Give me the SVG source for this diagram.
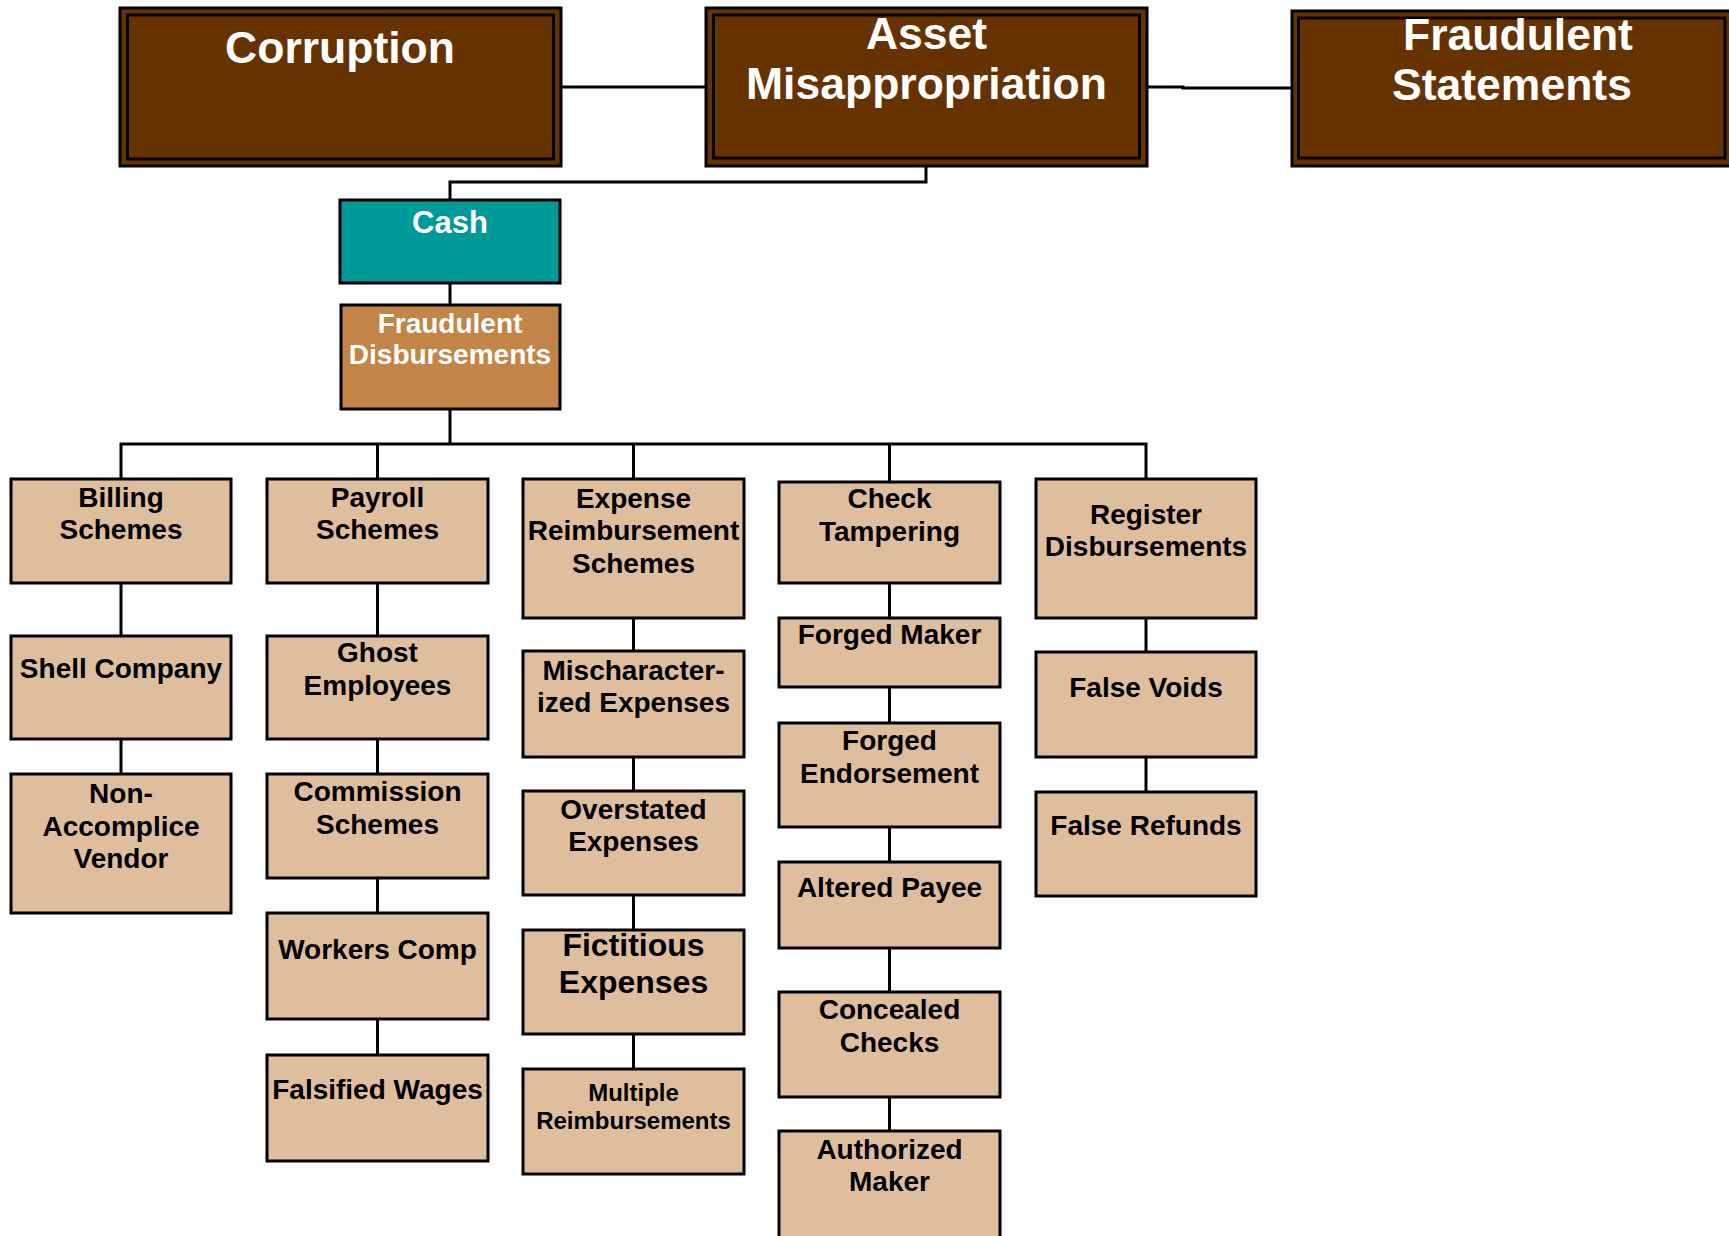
<svg xmlns="http://www.w3.org/2000/svg" width="1729" height="1236" viewBox="0 0 1729 1236">
<style>
.top{fill:#663300;stroke:#000;stroke-width:3}
.topin{fill:none;stroke:#000;stroke-width:3}
.leaf{fill:#DFBE9E;stroke:#000;stroke-width:3}
.tt{font-family:"Liberation Sans",Arial,sans-serif;font-weight:bold;font-size:44.5px;fill:#fff;text-anchor:middle}
.wt{font-family:"Liberation Sans",Arial,sans-serif;font-weight:bold;fill:#fff;text-anchor:middle}
.lt{font-family:"Liberation Sans",Arial,sans-serif;font-weight:bold;font-size:28px;fill:#000;text-anchor:middle}
.big{font-size:32px}
.small{font-size:24px}
.cn{fill:none;stroke:#000;stroke-width:3}
</style>
<rect width="1729" height="1236" fill="#fff"/>
<g id="connectors">
<path class="cn" d="M561 87H707"/>
<path class="cn" d="M1147 87H1183V88H1292"/>
<path class="cn" d="M926 166V182H450V200"/>
<path class="cn" d="M450 283V305"/>
<path class="cn" d="M450 409V444"/>
<path class="cn" d="M121 479V444H1146V479"/>
<path class="cn" d="M377.5 444V479"/>
<path class="cn" d="M633.5 444V479"/>
<path class="cn" d="M889.5 444V482"/>
<path class="cn" d="M121 583V636M121 739V774"/>
<path class="cn" d="M377.5 583V636M377.5 739V774M377.5 878V913M377.5 1019V1055"/>
<path class="cn" d="M633.5 618V651M633.5 757V791M633.5 895V930M633.5 1034V1069"/>
<path class="cn" d="M889.5 583V618M889.5 687V723M889.5 827V862M889.5 948V992M889.5 1097V1131"/>
<path class="cn" d="M1146 618V652M1146 757V792"/>
</g>
<g id="corruption">
<rect class="top" x="120" y="8" width="441" height="158"/>
<rect class="topin" x="127.5" y="15" width="426" height="144"/>
<text class="tt" x="340" y="63">Corruption</text>
</g>
<g id="asset-misappropriation">
<rect class="top" x="706" y="8" width="441" height="158"/>
<rect class="topin" x="713.5" y="15" width="426" height="143"/>
<text class="tt" x="926.5" y="49">Asset</text>
<text class="tt" x="926.5" y="99">Misappropriation</text>
</g>
<g id="fraudulent-statements">
<rect class="top" x="1292" y="11" width="441" height="155"/>
<rect class="topin" x="1298.5" y="18" width="426.5" height="140"/>
<text class="tt" x="1518" y="50">Fraudulent</text>
<text class="tt" x="1512" y="100">Statements</text>
</g>
<g id="cash">
<rect x="340" y="200" width="220" height="83" fill="#009999" stroke="#000" stroke-width="3"/>
<text class="wt" x="450" y="233" font-size="31">Cash</text>
</g>
<g id="fraudulent-disbursements">
<rect x="341" y="305" width="219" height="104" fill="#C28447" stroke="#000" stroke-width="3"/>
<text class="wt" x="450" y="333" font-size="28">Fraudulent</text>
<text class="wt" x="450" y="364" font-size="28">Disbursements</text>
</g>
<g id="billing-schemes">
<rect class="leaf" x="11" y="479" width="220" height="104"/>
<text class="lt" x="121" y="507">Billing</text>
<text class="lt" x="121" y="539">Schemes</text>
</g>
<g id="shell-company">
<rect class="leaf" x="11" y="636" width="220" height="103"/>
<text class="lt" x="121" y="678">Shell Company</text>
</g>
<g id="non-accomplice-vendor">
<rect class="leaf" x="11" y="774" width="220" height="139"/>
<text class="lt" x="121" y="803">Non-</text>
<text class="lt" x="121" y="836">Accomplice</text>
<text class="lt" x="121" y="868">Vendor</text>
</g>
<g id="payroll-schemes">
<rect class="leaf" x="267" y="479" width="221" height="104"/>
<text class="lt" x="377.5" y="507">Payroll</text>
<text class="lt" x="377.5" y="539">Schemes</text>
</g>
<g id="ghost-employees">
<rect class="leaf" x="267" y="636" width="221" height="103"/>
<text class="lt" x="377.5" y="662">Ghost</text>
<text class="lt" x="377.5" y="695">Employees</text>
</g>
<g id="commission-schemes">
<rect class="leaf" x="267" y="774" width="221" height="104"/>
<text class="lt" x="377.5" y="801">Commission</text>
<text class="lt" x="377.5" y="834">Schemes</text>
</g>
<g id="workers-comp">
<rect class="leaf" x="267" y="913" width="221" height="106"/>
<text class="lt" x="377.5" y="959">Workers Comp</text>
</g>
<g id="falsified-wages">
<rect class="leaf" x="267" y="1055" width="221" height="106"/>
<text class="lt" x="377.5" y="1099">Falsified Wages</text>
</g>
<g id="expense-reimbursement-schemes">
<rect class="leaf" x="523" y="479" width="221" height="139"/>
<text class="lt" x="633.5" y="508">Expense</text>
<text class="lt" x="633.5" y="540">Reimbursement</text>
<text class="lt" x="633.5" y="573">Schemes</text>
</g>
<g id="mischaracterized-expenses">
<rect class="leaf" x="523" y="651" width="221" height="106"/>
<text class="lt" x="633.5" y="680">Mischaracter-</text>
<text class="lt" x="633.5" y="712">ized Expenses</text>
</g>
<g id="overstated-expenses">
<rect class="leaf" x="523" y="791" width="221" height="104"/>
<text class="lt" x="633.5" y="819">Overstated</text>
<text class="lt" x="633.5" y="851">Expenses</text>
</g>
<g id="fictitious-expenses">
<rect class="leaf" x="523" y="930" width="221" height="104"/>
<text class="lt big" x="633.5" y="956">Fictitious</text>
<text class="lt big" x="633.5" y="993">Expenses</text>
</g>
<g id="multiple-reimbursements">
<rect class="leaf" x="523" y="1069" width="221" height="105"/>
<text class="lt small" x="633.5" y="1101">Multiple</text>
<text class="lt small" x="633.5" y="1129">Reimbursements</text>
</g>
<g id="check-tampering">
<rect class="leaf" x="779" y="482" width="221" height="101"/>
<text class="lt" x="889.5" y="508">Check</text>
<text class="lt" x="889.5" y="541">Tampering</text>
</g>
<g id="forged-maker">
<rect class="leaf" x="779" y="618" width="221" height="69"/>
<text class="lt" x="889.5" y="644">Forged Maker</text>
</g>
<g id="forged-endorsement">
<rect class="leaf" x="779" y="723" width="221" height="104"/>
<text class="lt" x="889.5" y="750">Forged</text>
<text class="lt" x="889.5" y="783">Endorsement</text>
</g>
<g id="altered-payee">
<rect class="leaf" x="779" y="862" width="221" height="86"/>
<text class="lt" x="889.5" y="897">Altered Payee</text>
</g>
<g id="concealed-checks">
<rect class="leaf" x="779" y="992" width="221" height="105"/>
<text class="lt" x="889.5" y="1019">Concealed</text>
<text class="lt" x="889.5" y="1052">Checks</text>
</g>
<g id="authorized-maker">
<rect class="leaf" x="779" y="1131" width="221" height="110"/>
<text class="lt" x="889.5" y="1159">Authorized</text>
<text class="lt" x="889.5" y="1191">Maker</text>
</g>
<g id="register-disbursements">
<rect class="leaf" x="1036" y="479" width="220" height="139"/>
<text class="lt" x="1146" y="524">Register</text>
<text class="lt" x="1146" y="556">Disbursements</text>
</g>
<g id="false-voids">
<rect class="leaf" x="1036" y="652" width="220" height="105"/>
<text class="lt" x="1146" y="697">False Voids</text>
</g>
<g id="false-refunds">
<rect class="leaf" x="1036" y="792" width="220" height="104"/>
<text class="lt" x="1146" y="835">False Refunds</text>
</g>
</svg>
